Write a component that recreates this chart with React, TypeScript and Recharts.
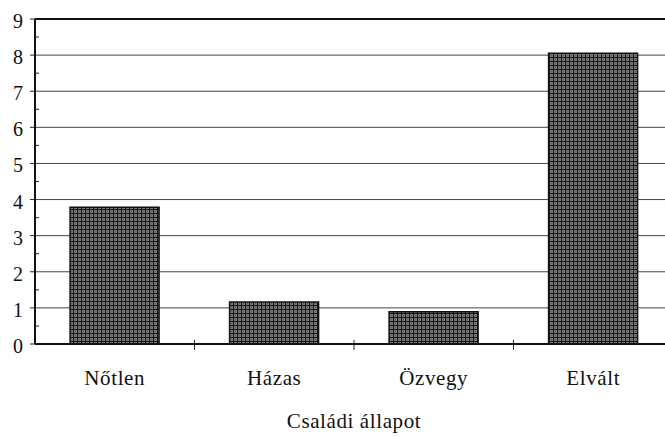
import React from 'react';
import { BarChart, Bar, XAxis, YAxis, CartesianGrid } from 'recharts';

const categories = ['Nőtlen', 'Házas', 'Özvegy', 'Elvált'];
const values = [3.79, 1.16, 0.89, 8.05];
const majorTicks = [0, 1, 2, 3, 4, 5, 6, 7, 8, 9];
const minorTicks = [0.5, 1.5, 2.5, 3.5, 4.5, 5.5, 6.5, 7.5, 8.5];
const xTitle = 'Családi állapot';

const data = categories.map((c, i) => ({ name: c, value: values[i] }));
const allTicks = [...majorTicks, ...minorTicks].sort((a, b) => a - b);

const FONT = "'Liberation Serif', 'Times New Roman', serif";
const AXIS_X = 35;
const AXIS_Y = 344;
const BAND = (673 - 35) / 4;
const textStyle: React.CSSProperties = { fontFamily: FONT };

const YTick = (props: any) => {
  const { y, payload } = props;
  const v = payload.value;
  const major = Math.abs(v - Math.round(v)) < 1e-6;
  if (!major) {
    return <line x1={AXIS_X} x2={AXIS_X + 4} y1={y} y2={y} stroke="#222" strokeWidth={1} />;
  }
  return (
    <g>
      <line x1={AXIS_X - 5} x2={AXIS_X} y1={y} y2={y} stroke="#222" strokeWidth={1} />
      <text x={23} y={y + 9} textAnchor="end" style={{ ...textStyle, fontSize: 20 }} fill="#111">
        {v}
      </text>
    </g>
  );
};

const XTick = (props: any) => {
  const { x, payload } = props;
  const bx = x + BAND / 2;
  return (
    <g>
      <line x1={bx} x2={bx} y1={AXIS_Y - 4} y2={AXIS_Y + 6} stroke="#222" strokeWidth={1} />
      <text x={x} y={385} textAnchor="middle" style={{ ...textStyle, fontSize: 21, letterSpacing: 0.6 }} fill="#111">
        {payload.value}
      </text>
    </g>
  );
};

export default function App() {
  return (
    <div style={{ position: 'absolute', left: 0, top: 0, width: 665, height: 437, overflow: 'hidden', background: '#fff' }}>
      <BarChart
        width={680}
        height={437}
        data={data}
        margin={{ top: 19, right: 7, left: 0, bottom: 0 }}
        barCategoryGap="22%"
      >
        <defs>
          <pattern id="hatch" width="4" height="4" patternUnits="userSpaceOnUse">
            <rect x="0" y="0" width="4" height="4" fill="#7a7a7a" />
            <rect x="1" y="0" width="1" height="4" fill="#141414" />
            <rect x="0" y="1" width="4" height="1" fill="#141414" />
            <rect x="3" y="3" width="1" height="1" fill="#5a5a5a" />
          </pattern>
        </defs>
        <CartesianGrid
          vertical={false}
          horizontalValues={majorTicks}
          stroke="#444"
          strokeWidth={1}
        />
        <XAxis
          dataKey="name"
          height={93}
          tickLine={false}
          axisLine={{ stroke: '#111', strokeWidth: 2 }}
          tick={<XTick />}
          interval={0}
          label={{ value: xTitle, position: 'insideBottom', offset: 9, style: { fontFamily: FONT, fontSize: 21, letterSpacing: 0.6 }, fill: '#111' }}
        />
        <YAxis
          width={35}
          domain={[0, 9]}
          ticks={allTicks}
          interval={0}
          tickLine={false}
          axisLine={{ stroke: '#111', strokeWidth: 2 }}
          tick={<YTick />}
        />
        <Bar dataKey="value" fill="url(#hatch)" stroke="#111" strokeWidth={1.5} isAnimationActive={false} />
        <line x1={AXIS_X} x2={680} y1={19} y2={19} stroke="#111" strokeWidth={2} />
      </BarChart>
    </div>
  );
}
